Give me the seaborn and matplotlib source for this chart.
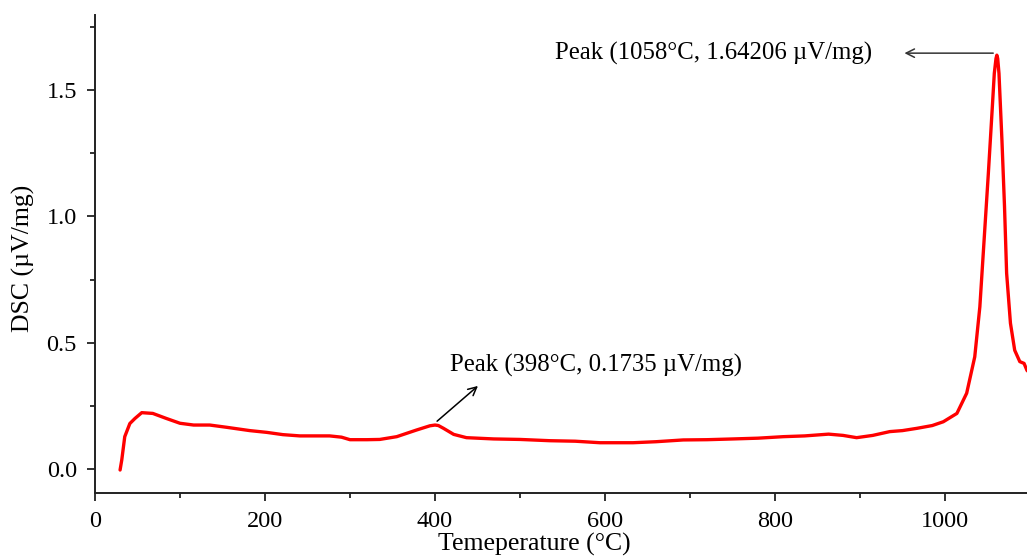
import matplotlib
matplotlib.use("Agg")
import matplotlib.pyplot as plt
import seaborn as sns
import pandas as pd

temperatura = [29.5, 31.5, 35, 41, 47, 55, 68, 84, 100, 116, 135, 155, 182, 202, 221, 241,
               276, 290, 300, 320, 335, 355, 378, 394, 400, 404, 410, 422, 437, 469, 500,
               535, 565, 594, 633, 660, 692, 720, 751, 780, 810, 835, 863, 880, 896,
               915, 935, 950, 967, 985, 998, 1014, 1025.5, 1035, 1041, 1046, 1051, 1055.7,
               1058, 1060, 1061, 1062, 1063.5, 1067, 1070, 1072.5, 1077, 1082, 1088, 1093,
               1096.5, 1100]
dsc = [-0.004, 0.036, 0.128, 0.18, 0.20, 0.223, 0.22, 0.20, 0.181, 0.174, 0.174, 0.165,
       0.152, 0.145, 0.136, 0.131, 0.131, 0.126, 0.116, 0.116, 0.117, 0.128, 0.154, 0.171,
       0.174, 0.172, 0.161, 0.137, 0.124, 0.119, 0.117, 0.112, 0.110, 0.104, 0.104, 0.108,
       0.115, 0.116, 0.119, 0.122, 0.128, 0.131, 0.138, 0.133, 0.124, 0.133, 0.148, 0.152,
       0.161, 0.172, 0.187, 0.22, 0.30, 0.444, 0.642, 0.906, 1.17, 1.434,
       1.566, 1.625, 1.638, 1.625, 1.566, 1.30, 1.04, 0.775, 0.577, 0.47, 0.425, 0.418,
       0.39, 0.38]

pico1 = (398, 0.1735)
pico2 = (1058, 1.64206)

df = pd.DataFrame({"T": temperatura, "DSC": dsc})

sns.set_theme(style="ticks")
plt.rcParams["font.family"] = ["Liberation Serif", "DejaVu Serif"]
plt.rcParams["text.color"] = "black"

fig = plt.figure(figsize=(10.27, 5.57), dpi=100)
ax = fig.add_axes([95 / 1027, 64 / 557, 935 / 1027, 478 / 557])

sns.lineplot(data=df, x="T", y="DSC", color="red", linewidth=2.4, ax=ax)

ax.set_xlim(0, 1100)
ax.set_ylim(-0.095, 1.797)
ax.set_xticks([0, 200, 400, 600, 800, 1000])
ax.set_xticks([100, 300, 500, 700, 900, 1100], minor=True)
ax.set_yticks([0.0, 0.5, 1.0, 1.5])
ax.set_yticklabels(["0.0", "0.5", "1.0", "1.5"])
ax.set_yticks([0.25, 0.75, 1.25, 1.75], minor=True)

ax.tick_params(which="major", direction="out", length=6, width=1.3, pad=7,
               labelsize=17.5, colors="#222222", labelcolor="black")
ax.tick_params(which="minor", direction="out", length=3.5, width=1.3, colors="#222222")
for s in ["left", "bottom"]:
    ax.spines[s].set_linewidth(1.4)
    ax.spines[s].set_color("#222222")
ax.spines["top"].set_visible(False)
ax.spines["right"].set_visible(False)

ax.set_xlabel("Temeperature (°C)", fontsize=18.5, color="black")
ax.set_ylabel("DSC (µV/mg)", fontsize=18.5, color="black")
ax.xaxis.set_label_coords(0.4695, -0.083)
ax.yaxis.set_label_coords(-0.064, 0.49)

# Anotaciones de picos
ax.annotate("", xy=(453, 0.336), xytext=(400, 0.182),
            arrowprops=dict(arrowstyle="->", color="black", lw=1.1, mutation_scale=15))
ax.text(418, 0.41, f"Peak ({pico1[0]}°C, {pico1[1]} µV/mg)", fontsize=17.8,
        ha="left", va="center")

ax.annotate("", xy=(949, 1.646), xytext=(1060, 1.646),
            arrowprops=dict(arrowstyle="->", color="#333333", lw=1.1, mutation_scale=15))
ax.text(914, 1.646, f"Peak ({pico2[0]}°C, {pico2[1]} µV/mg)", fontsize=17.8,
        ha="right", va="center")

fig.savefig("out.png", dpi=100)
